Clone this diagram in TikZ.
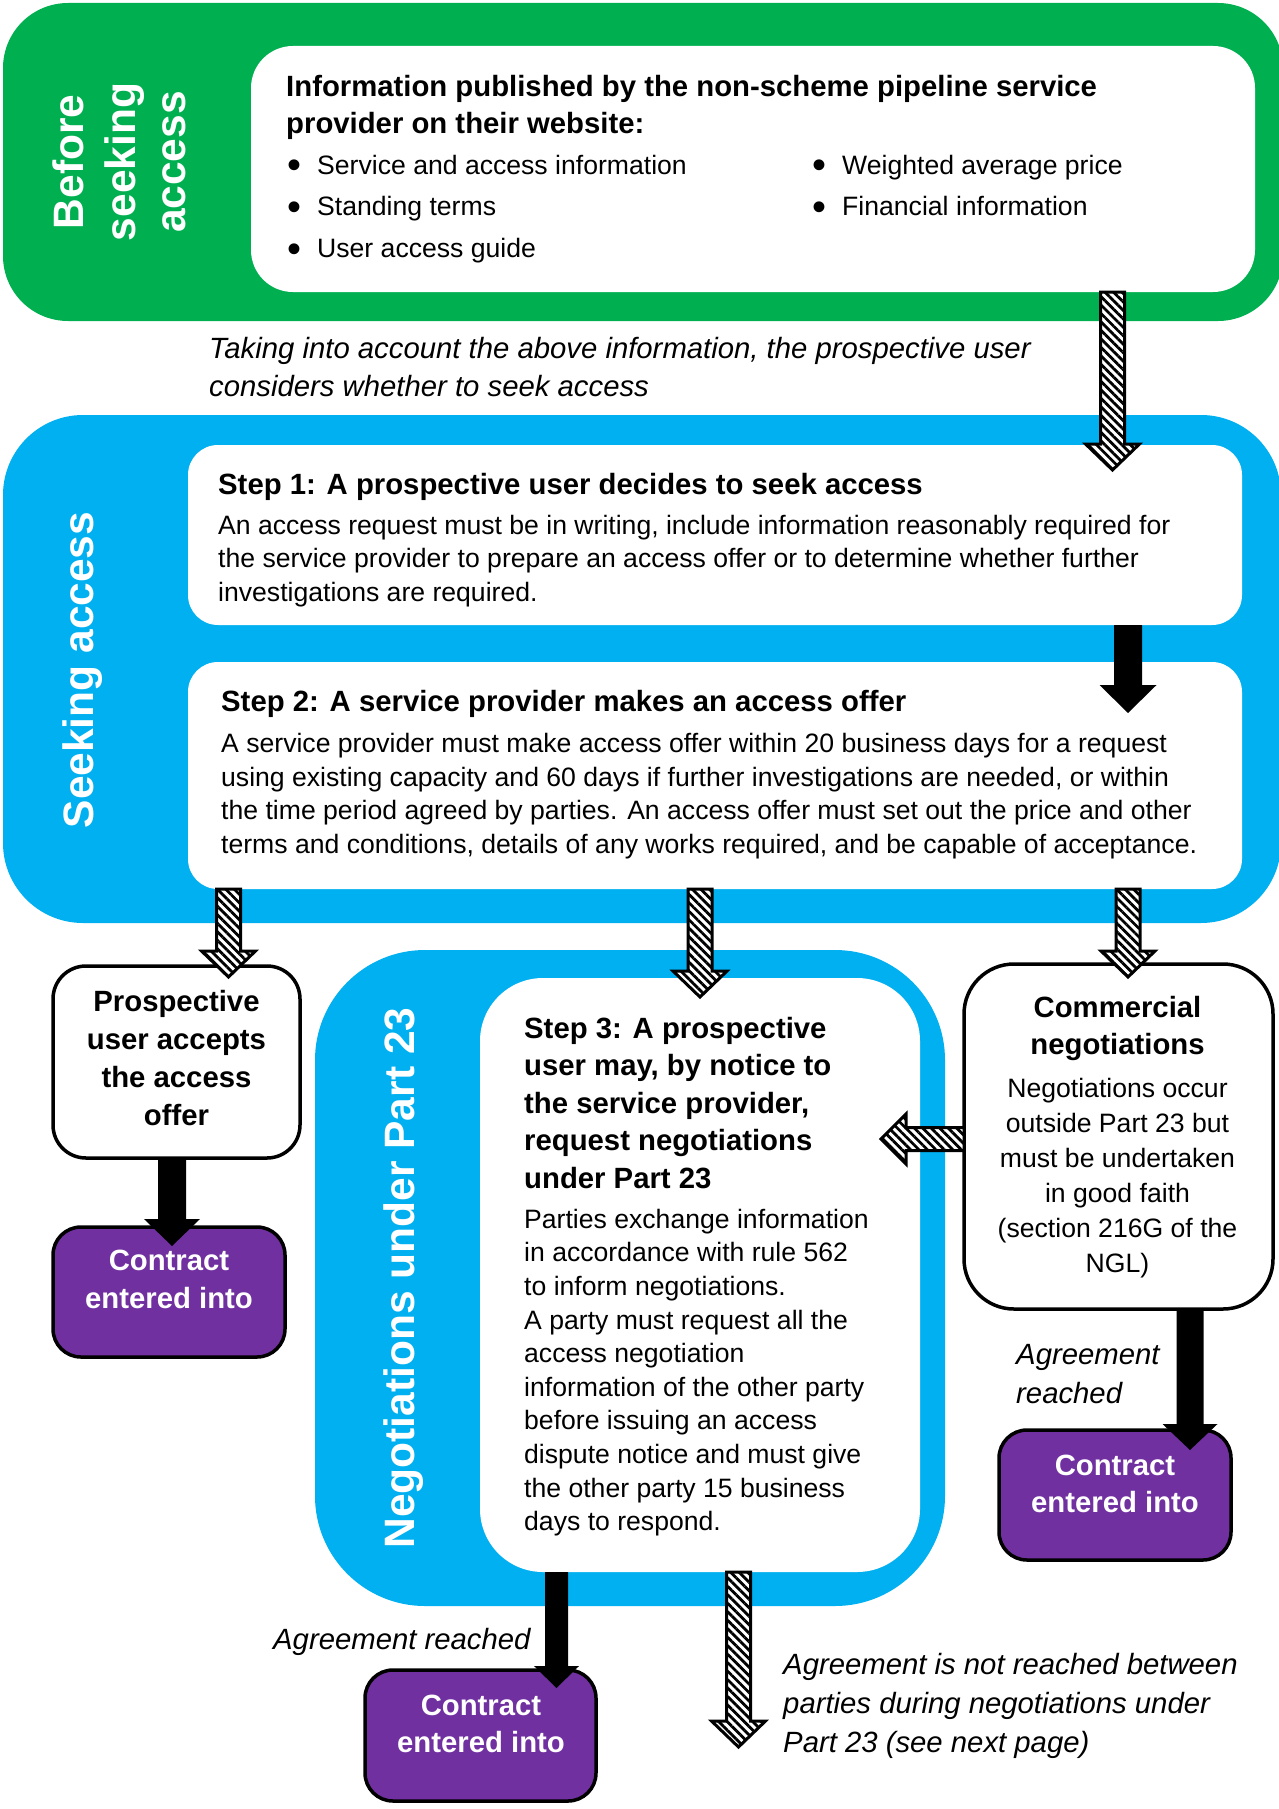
\documentclass[tikz,border=0pt]{standalone}
\usepackage{fontspec}
\setmainfont{Liberation Sans}
\usepackage{graphicx}
\usetikzlibrary{calc,patterns.meta}
\definecolor{cgreen}{HTML}{00B050}
\definecolor{cblue}{HTML}{00B0F0}
\definecolor{cpurple}{HTML}{7030A0}

% block arrow pointing down: style, start, tip, shaft half, head half, head length
\newcommand{\blkdown}[6]{%
  \path[#1] let \p1=(#2), \p2=(#3) in
    ({\x2-#4pt},\y1) -- ({\x2+#4pt},\y1) -- ({\x2+#4pt},{\y2+#6pt}) --
    ({\x2+#5pt},{\y2+#6pt}) -- (\x2,\y2) -- ({\x2-#5pt},{\y2+#6pt}) --
    ({\x2-#4pt},{\y2+#6pt}) -- cycle;}
% block arrow pointing left
\newcommand{\blkleft}[6]{%
  \path[#1] let \p1=(#2), \p2=(#3) in
    (\x1,{\y2+#4pt}) -- ({\x2+#6pt},{\y2+#4pt}) -- ({\x2+#6pt},{\y2+#5pt}) --
    (\x2,\y2) -- ({\x2+#6pt},{\y2-#5pt}) -- ({\x2+#6pt},{\y2-#4pt}) --
    (\x1,{\y2-#4pt}) -- cycle;}
\newcommand{\bul}{\makebox[30pt][l]{\raisebox{-4.5pt}{\scalebox{1.5}{•}}}}

\begin{document}
\begin{tikzpicture}[x=1pt,y=-1pt,
  box/.style={rectangle, anchor=north west, inner sep=0pt, outer sep=0pt},
  framed/.style={box, draw=black, line width=3.5pt},
  hatch/.style={draw=black, line width=3pt, line join=miter, preaction={fill=white},
                pattern={Lines[angle=-45,distance=6pt,line width=2.8pt]}},
  solid arrow/.style={fill=black},
  tb/.style={font=\bfseries\fontsize{29.3}{37}\selectfont, inner sep=0pt},
  tx/.style={font=\fontsize{26.6}{33.8}\selectfont, inner sep=0pt},
  ti/.style={font=\itshape\fontsize{29.3}{38}\selectfont, inner sep=0pt},
  vl/.style={font=\bfseries\fontsize{42.5}{50}\selectfont, text=white, inner sep=0pt, rotate=90, anchor=base},
]
\useasboundingbox (0,0) rectangle (1279,1809);
\clip (0,0) rectangle (1279,1809);

% ---------- Before seeking access ----------
\node[box, fill=cgreen, minimum width=1280pt, minimum height=318pt, rounded corners=65pt] (green) at (3,3) {};
\node[box, fill=white, minimum width=1004pt, minimum height=246pt, rounded corners=42pt] (info) at (251,46) {};
\node[vl] (lb1) at (83,162) {Before};
\node[vl] (lb2) at (135,162) {seeking};
\node[vl] (lb3) at (185,162) {access};
\node[tb, anchor=north west, align=left] (infot) at (286,70)
  {\strut Information published by the non-scheme pipeline service\\provider on their website:};
\node[tx, anchor=base west] (b1) at (287,174.5) {\bul Service and access information};
\node[tx, anchor=base west] (b2) at (287,215.5) {\bul Standing terms};
\node[tx, anchor=base west] (b3) at (287,257.5) {\bul User access guide};
\node[tx, anchor=base west] (b4) at (812,174.5) {\bul Weighted average price};
\node[tx, anchor=base west] (b5) at (812,215.5) {\bul Financial information};

\node[ti, anchor=north west, align=left] (consider) at (209,332)
  {\strut Taking into account the above information, the prospective user\\considers whether to seek access};

% ---------- Seeking access ----------
\node[box, fill=cblue, minimum width=1278pt, minimum height=508pt, rounded corners=80pt] (seek) at (3,415) {};
\node[box, fill=white, minimum width=1054pt, minimum height=180pt, rounded corners=30pt] (step1) at (188,445) {};
\node[box, fill=white, minimum width=1054pt, minimum height=227pt, rounded corners=30pt] (step2) at (188,662) {};
\node[vl] (lseek) at (93,670) {Seeking access};

\node[tb, anchor=base west] (s1t) at (218,494) {Step 1: A prospective user decides to seek access};
\node[tx, anchor=north west, align=left] (s1b) at (218,510.3)
  {\strut An access request must be in writing, include information reasonably required for\\the service provider to prepare an access offer or to determine whether further\\investigations are required.};
\node[tb, anchor=base west] (s2t) at (221,711) {Step 2: A service provider makes an access offer};
\node[tx, anchor=north west, align=left] (s2b) at (221,728.5)
  {\strut A service provider must make access offer within 20 business days for a request\\using existing capacity and 60 days if further investigations are needed, or within\\the time period agreed by parties. An access offer must set out the price and other\\terms and conditions, details of any works required, and be capable of acceptance.};

% ---------- Negotiations under Part 23 ----------
\node[box, fill=cblue, minimum width=630pt, minimum height=656pt, rounded corners=110pt] (neg) at (315,950) {};
\node[box, fill=white, minimum width=440pt, minimum height=594pt, rounded corners=63pt] (step3) at (480,978) {};
\node[vl] (lneg) at (414,1278) {Negotiations under Part 23};
\node[anchor=north west, align=left, inner sep=0pt, font=\bfseries\fontsize{29.3}{37.5}\selectfont] (s3t) at (524,1011.75)
  {\strut Step 3: A prospective\\user may, by notice to\\the service provider,\\request negotiations\\under Part 23};
\node[anchor=north west, align=left, inner sep=0pt, font=\fontsize{26.6}{33.6}\selectfont] (s3b) at (524,1204.5)
  {\strut Parties exchange information\\in accordance with rule 562\\to inform negotiations.\\A party must request all the\\access negotiation\\information of the other party\\before issuing an access\\dispute notice and must give\\the other party 15 business\\days to respond.};

% ---------- Side boxes ----------
\node[framed, fill=white, minimum width=247pt, minimum height=192pt, rounded corners=33pt] (prosp) at (53,966) {};
\node[anchor=north, align=center, inner sep=0pt, font=\bfseries\fontsize{29.3}{38}\selectfont] (prospt) at (176.5,984.4) {\strut Prospective\\user accepts\\the access\\offer};

\node[framed, fill=cpurple, minimum width=232pt, minimum height=130pt, rounded corners=28pt] (con1) at (53,1227) {};
\node[anchor=north, align=center, inner sep=0pt, text=white, font=\bfseries\fontsize{29.3}{38}\selectfont] (con1t) at (169,1243.4) {\strut Contract\\entered into};

\node[framed, fill=white, minimum width=309pt, minimum height=345pt, rounded corners=50pt] (comm) at (964,964) {};
\node[tb, anchor=north, align=center] (commt) at (1117.5,991.1) {\strut Commercial\\negotiations};
\node[anchor=north, align=center, inner sep=0pt, font=\fontsize{26.6}{35}\selectfont] (commb) at (1117.5,1072.5)
  {\strut Negotiations occur\\outside Part 23 but\\must be undertaken\\in good faith\\(section 216G of the\\NGL)};

\node[framed, fill=cpurple, minimum width=232pt, minimum height=130pt, rounded corners=28pt] (con2) at (999,1430) {};
\node[tb, anchor=north, align=center, text=white] (con2t) at (1115,1449.1) {\strut Contract\\entered into};
\node[anchor=north west, align=left, inner sep=0pt, font=\itshape\fontsize{29.3}{38.5}\selectfont] (agr2) at (1016,1337.5)
  {\strut Agreement\\reached};

\node[framed, fill=cpurple, minimum width=231pt, minimum height=131pt, rounded corners=28pt] (con3) at (365,1670) {};
\node[tb, anchor=north, align=center, text=white] (con3t) at (481,1689.1) {\strut Contract\\entered into};
\node[ti, anchor=base west] (agr3) at (273,1649) {Agreement reached};
\node[anchor=north west, align=left, inner sep=0pt, font=\itshape\fontsize{29.3}{39}\selectfont] (notr) at (783,1646.7)
  {\strut Agreement is not reached between\\parties during negotiations under\\Part 23 (see next page)};

% ---------- Arrows ----------
\coordinate (xa1) at (1112.5,0);
\coordinate (xa2) at (1128,0);
\coordinate (xa3) at (228.5,0);
\coordinate (xa4) at (700,0);
\coordinate (xa7) at (172,0);
\coordinate (xa8) at (1190,0);
\coordinate (xa9) at (556.5,0);
\coordinate (xa10) at (738.5,0);
\coordinate (ya6) at (0,1139);
\coordinate (a10e) at (738.5,1747);

\blkdown{hatch}{xa1 |- info.south}{$(xa1 |- step1.north)+(0,25)$}{12}{27}{26}
\blkdown{solid arrow}{xa2 |- step1.south}{$(xa2 |- step2.north)+(0,51)$}{14}{28.5}{28}
\blkdown{hatch}{xa3 |- step2.south}{$(xa3 |- prosp.north)+(0,11)$}{12}{27}{26}
\blkdown{hatch}{xa4 |- step2.south}{$(xa4 |- step3.north)+(0,19)$}{12}{27}{26}
\blkdown{hatch}{xa2 |- step2.south}{$(xa2 |- comm.north)+(0,13)$}{12}{27}{26}
\blkleft{hatch}{comm.west |- ya6}{$(step3.east |- ya6)+(-39,0)$}{11.5}{25}{25}
\blkdown{solid arrow}{xa7 |- prosp.south}{$(xa7 |- con1.north)+(0,19)$}{14}{28}{27}
\blkdown{solid arrow}{xa8 |- comm.south}{$(xa8 |- con2.north)+(0,20)$}{13.5}{27.5}{26}
\blkdown{solid arrow}{xa9 |- step3.south}{$(xa9 |- con3.north)+(0,18)$}{11.5}{22.5}{22}
\blkdown{hatch}{xa10 |- step3.south}{a10e}{12}{27}{26}
\end{tikzpicture}
\end{document}
